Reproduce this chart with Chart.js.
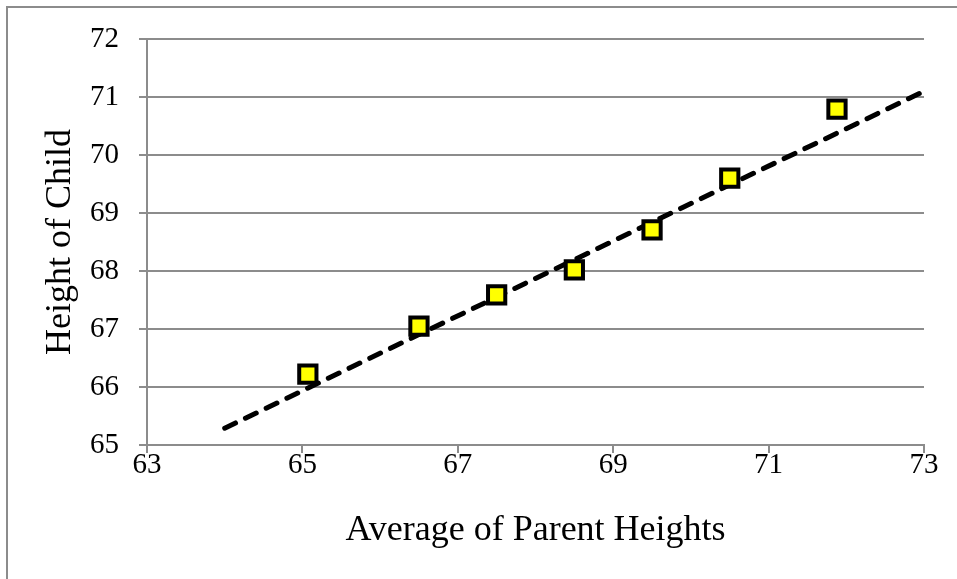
<!DOCTYPE html>
<html>
<head>
<meta charset="utf-8">
<script src="https://cdn.jsdelivr.net/npm/chart.js@4"></script>
<style>
  html, body { margin: 0; padding: 0; background: #fff; }
  #wrap { position: relative; width: 957px; height: 579px; overflow: hidden; }
  #frame { position: absolute; left: 6px; top: 6px; width: 1000px; height: 1000px;
           border-left: 2px solid #8c8c8c; border-top: 2px solid #8c8c8c; }
  canvas { position: absolute; left: 0; top: 0; }
</style>
</head>
<body>
<div id="wrap">
  <div id="frame"></div>
  <canvas id="chart" width="957" height="579"></canvas>
</div>
<script>
// --- Data ---
const parentHeights = [65.07, 66.5, 67.5, 68.5, 69.5, 70.5, 71.88];
const childHeights  = [66.22, 67.05, 67.59, 68.02, 68.71, 69.6, 70.79];
const trendX = [64, 73];
const trendY = [65.29, 71.1];
const xTicks = [63, 65, 67, 69, 71, 73];
const yTicks = [65, 66, 67, 68, 69, 70, 71, 72];

const gridColor = '#8c8c8c';
const serif = "'Liberation Serif', 'Times New Roman', serif";

const points = parentHeights.map((x, i) => ({ x: x, y: childHeights[i] }));
const trend = trendX.map((x, i) => ({ x: x, y: trendY[i] }));

const ctx = document.getElementById('chart').getContext('2d');
new Chart(ctx, {
    type: 'scatter',
    data: {
        datasets: [{
            label: 'Height of Child',
            data: points,
            pointStyle: 'rect',
            pointRadius: 12.2,
            pointBackgroundColor: '#ffff00',
            pointBorderColor: '#000000',
            pointBorderWidth: 4,
            order: 0
        }, {
            type: 'line',
            label: 'Trend',
            data: trend,
            borderColor: '#000000',
            borderWidth: 5,
            borderDash: [12, 11],
            borderCapStyle: 'round',
            pointRadius: 0,
            fill: false,
            order: 1
        }]
    },
    options: {
        responsive: false,
        animation: false,
        events: [],
        layout: { padding: { top: 39, right: 33, left: 0, bottom: 0 } },
        plugins: { legend: { display: false }, tooltip: { enabled: false } },
        scales: {
            x: {
                type: 'linear',
                min: 63, max: 73,
                afterBuildTicks: (scale) => { scale.ticks = xTicks.map(v => ({ value: v })); },
                afterFit: (scale) => { scale.height = 134; },
                grid: { drawOnChartArea: false, drawTicks: true, tickLength: 8, color: gridColor, lineWidth: 2 },
                border: { color: gridColor, width: 2 },
                ticks: { color: '#000', font: { family: serif, size: 29, lineHeight: 1 }, padding: -2, maxRotation: 0 },
                title: { display: true, text: 'Average of Parent Heights', color: '#000',
                         font: { family: serif, size: 36 }, padding: { top: 0, bottom: 27 } }
            },
            y: {
                type: 'linear',
                min: 65, max: 72,
                afterBuildTicks: (scale) => { scale.ticks = yTicks.map(v => ({ value: v })); },
                afterFit: (scale) => { scale.width = 147; },
                grid: { drawOnChartArea: true, drawTicks: true, tickLength: 8, color: gridColor, lineWidth: 2 },
                border: { color: gridColor, width: 2 },
                ticks: { color: '#000', font: { family: serif, size: 29 }, padding: 20 },
                title: { display: true, text: 'Height of Child', color: '#000',
                         font: { family: serif, size: 36 }, padding: { top: 39, bottom: 0 } }
            }
        }
    }
});
</script>
</body>
</html>
